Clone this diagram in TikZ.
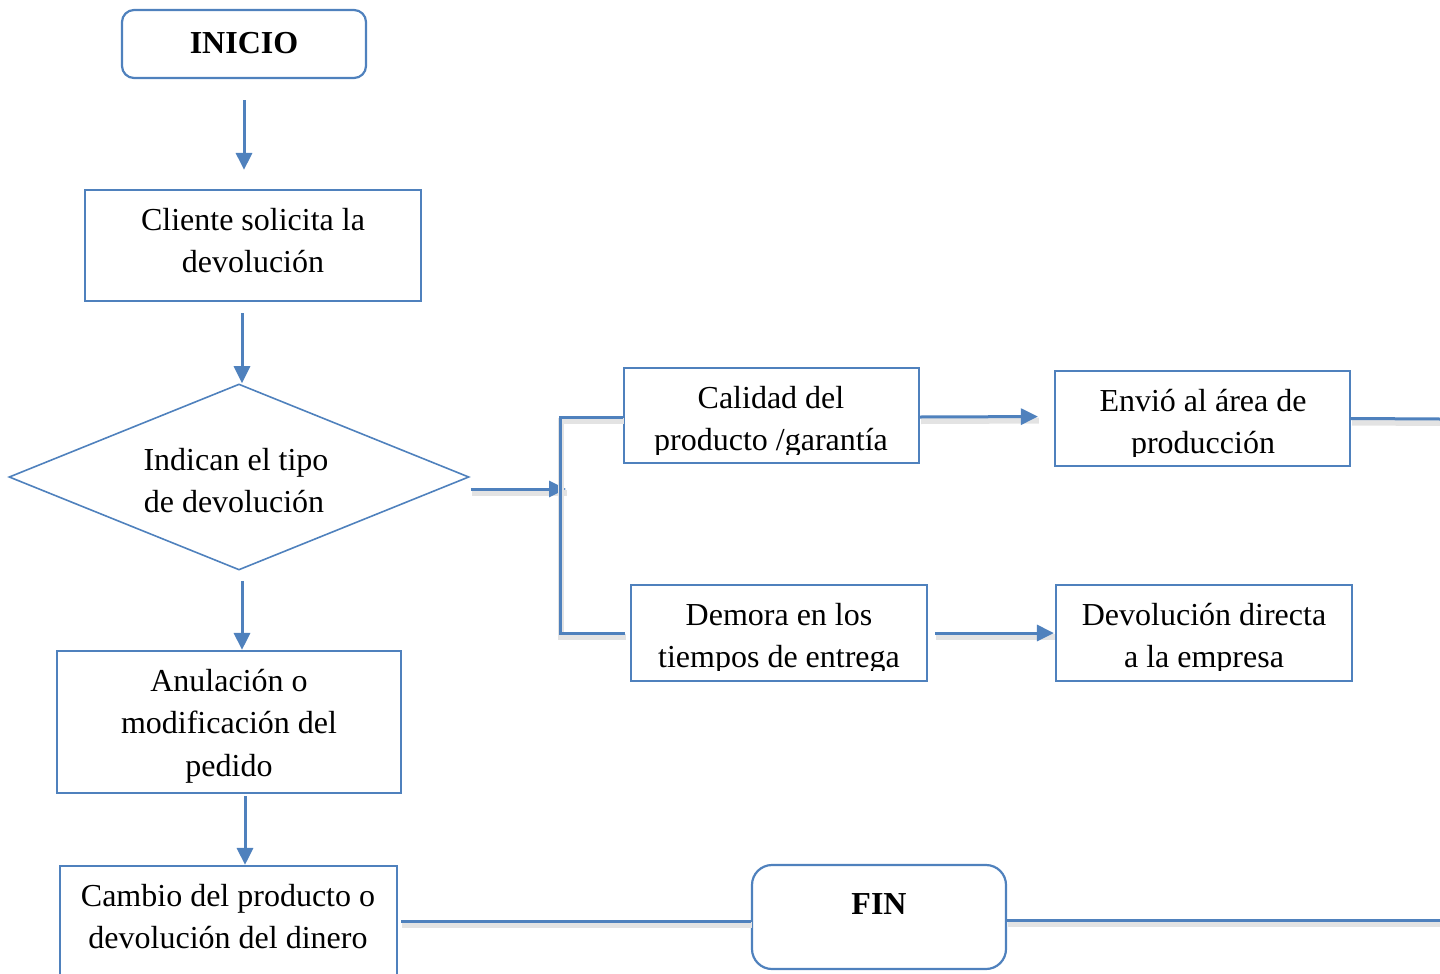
\documentclass[tikz,border=0pt]{standalone}
\usepackage{fontspec}
\setmainfont{Liberation Serif}
\usetikzlibrary{arrows.meta,shapes.geometric,calc}
\definecolor{obl}{HTML}{4F81BD}
\tikzset{
  box/.style={draw=obl, line width=2.2pt, inner sep=0pt, fill=none},
  rbox/.style={box, rounded corners=#1},
  txt/.style={anchor=base, inner sep=0pt, font=\fontsize{32}{42}\selectfont},
  btxt/.style={txt, font=\fontsize{32}{42}\selectfont\bfseries},
  conn/.style={draw=obl, line width=3pt},
  arr/.style={conn, -{Triangle[length=17pt,width=16pt]}},
  shad/.style={preaction={-, draw=black!11, line width=6pt, transform canvas={shift={(1pt,-4pt)}}}},
}
\begin{document}
\begin{tikzpicture}[x=1pt,y=-1pt]
\useasboundingbox (0,0) rectangle (1440,974);

% boxes
\node[rbox=12pt, minimum width=244pt, minimum height=68pt] (ini) at (244,44) {};
\node[box, minimum width=336pt, minimum height=111pt] (cli) at (253,245.5) {};
\node[diamond, draw=obl, line width=1.6pt, inner sep=0pt, minimum width=460pt, minimum height=186pt] (dia) at (239,477) {};
\node[box, minimum width=344pt, minimum height=142pt] (anu) at (229,722) {};
\node[box, minimum width=337pt, minimum height=110pt] (cam) at (228.5,921) {};
\node[rbox=20pt, minimum width=254pt, minimum height=104pt] (fin) at (879,917) {};
\node[box, minimum width=295pt, minimum height=95pt] (cal) at (771.5,415.5) {};
\node[box, minimum width=295pt, minimum height=95pt] (env) at (1202.5,418.5) {};
\node[box, minimum width=296pt, minimum height=96pt] (dem) at (779,633) {};
\node[box, minimum width=296pt, minimum height=96pt] (dev) at (1204,633) {};

% texts
\node[btxt] (init) at (244,54) {INICIO};
\node[txt] (cli1) at (253,230) {Cliente solicita la};
\node[txt] (cli2) at (253,272) {devolución};
\node[txt] (dia1) at (236,470) {Indican el tipo};
\node[txt] (dia2) at (234,512) {de devolución};
\node[txt] (anu1) at (229,691) {Anulación o};
\node[txt] (anu2) at (229,733) {modificación del};
\node[txt] (anu3) at (229,776) {pedido};
\node[txt] (cam1) at (228,906) {Cambio del producto o};
\node[txt] (cam2) at (228,948) {devolución del dinero};
\node[btxt] (fint) at (879,914) {FIN};
\begin{scope}
  \clip (cal.north west) rectangle ([yshift=10pt]cal.south east);
  \node[txt] (cal1) at (771,408) {Calidad del};
  \node[txt] (cal2) at (771,450) {producto /garantía};
\end{scope}
\begin{scope}
  \clip (env.north west) rectangle ([yshift=11pt]env.south east);
  \node[txt] (env1) at (1203,411) {Envió al área de};
  \node[txt] (env2) at (1203,453) {producción};
\end{scope}
\begin{scope}
  \clip (dem.north west) rectangle ([yshift=12pt]dem.south east);
  \node[txt] (dem1) at (779,625) {Demora en los};
  \node[txt] (dem2) at (779,667) {tiempos de entrega};
\end{scope}
\begin{scope}
  \clip (dev.north west) rectangle ([yshift=12pt]dev.south east);
  \node[txt] (dev1) at (1204,625) {Devolución directa};
  \node[txt] (dev2) at (1204,667) {a la empresa};
\end{scope}

% free ends
\coordinate (bj) at (566,489);
\coordinate (bb) at (560,633);
\coordinate (er) at (1440,419);
\coordinate (fr) at (1440,920);

% vertical arrows
\draw[arr, shorten <=21pt, shorten >=19pt] (ini.south) -- (ini.south |- cli.north);
\draw[arr, shorten <=11pt] ([xshift=3pt]dia.north |- cli.south) -- ([xshift=3pt]dia.north);
\draw[arr, shorten <=10pt] ([xshift=3pt]dia.south) -- ([xshift=3pt]dia.south |- anu.north);
\draw[arr, shorten <=2pt] ([xshift=16pt]anu.south) -- ([xshift=16pt]anu.south |- cam.north);

% branch
\draw[arr, shad] (dia.east |- bj) ++(1,0) -- (bj);
\draw[conn, shad] ([yshift=-1.5pt]cal.west) -| (bb) -- ([xshift=-5pt]dem.west);
\draw[arr, shad, shorten >=16pt] ([yshift=-1.5pt]cal.east) -- ([yshift=-1pt]env.west |- cal.east);
\draw[conn, shad] (env.east) -- (er);
\draw[arr, shad, shorten <=7pt, shorten >=1pt] (dem.east) -- (dev.west);

% bottom
\draw[conn, shad, shorten <=3pt] (cam.east) -- (fin.west |- cam.east);
\draw[conn, shad] (fin.east |- fr) -- (fr);
\end{tikzpicture}
\end{document}
